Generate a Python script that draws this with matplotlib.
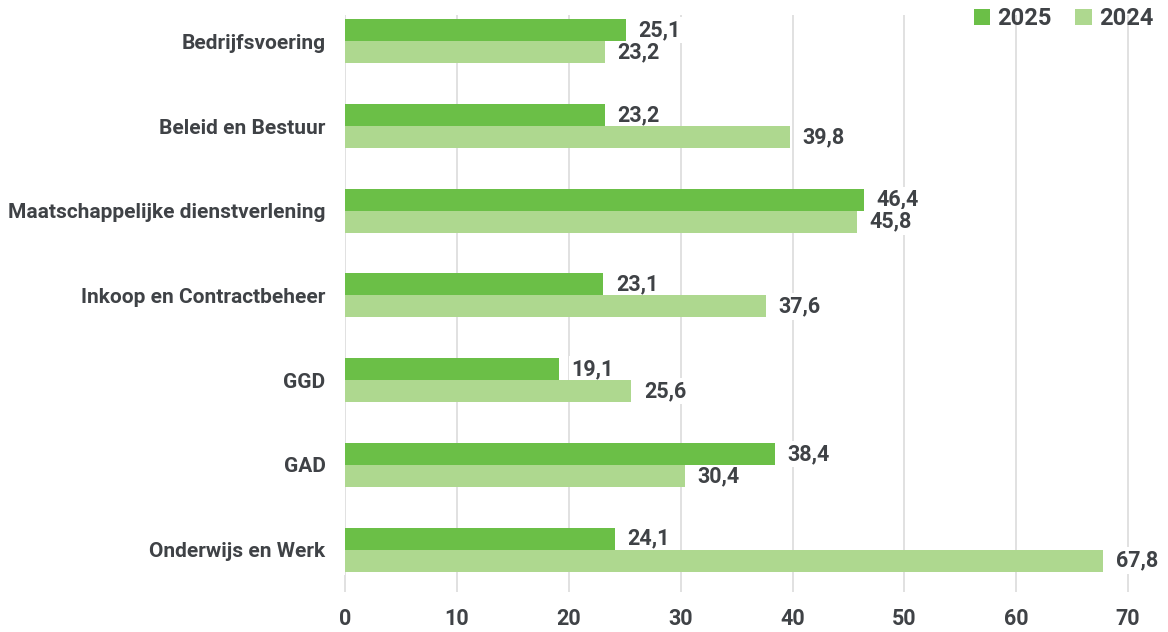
import numpy as np
import matplotlib.pyplot as plt

# data
categories = ["Bedrijfsvoering", "Beleid en Bestuur", "Maatschappelijke dienstverlening",
              "Inkoop en Contractbeheer", "GGD", "GAD", "Onderwijs en Werk"]
vals_2025 = [25.1, 23.2, 46.4, 23.1, 19.1, 38.4, 24.1]
vals_2024 = [23.2, 39.8, 45.8, 37.6, 25.6, 30.4, 67.8]
series_names = ["2025", "2024"]

c25 = "#6bbf47"
c24 = "#aed88f"
txt = "#3f4246"

plt.rcParams['font.family'] = ['Roboto', 'DejaVu Sans']

fig = plt.figure(figsize=(11.68, 6.32), dpi=100)
ax = fig.add_axes([0.2954, 0.0902, 0.6896, 0.886])
ax.set_axisbelow(True)

y = np.arange(len(categories))
h = 0.26
b1 = ax.barh(y - h / 2, vals_2025, height=h, color=c25, label=series_names[0], zorder=2)
b2 = ax.barh(y + h / 2, vals_2024, height=h, color=c24, label=series_names[1], zorder=2)

def fmt(v):
    return f"{v:.1f}".replace(".", ",")

# labels sit under the bars so their white box only hides the gridlines
for bars, vals in [(b1, vals_2025), (b2, vals_2024)]:
    for rect, v in zip(bars, vals):
        ax.annotate(fmt(v), (v, rect.get_y() + rect.get_height() / 2),
                    xytext=(9, 0), textcoords="offset points", va="center", ha="left",
                    fontsize=15.5, fontweight="bold", color=txt, zorder=1.5,
                    bbox=dict(boxstyle="square,pad=0.1", fc="white", ec="none"))

ax.set_xlim(0, 72)
ax.set_ylim(len(categories) - 1 + 0.30, -0.31)
ax.set_xticks(range(0, 71, 10))
ax.set_yticks(y)
ax.set_yticklabels(categories, fontsize=15, fontweight="bold", color=txt)
for lab in ax.get_xticklabels():
    lab.set_fontsize(15.5)
    lab.set_fontweight("bold")
    lab.set_color(txt)

ax.grid(axis="x", color="#dcdcdc", linewidth=1.2)
for s in ax.spines.values():
    s.set_visible(False)
ax.tick_params(axis="y", length=0, pad=14)
ax.tick_params(axis="x", length=12, width=1.2, color="#dcdcdc", pad=12)

leg = ax.legend(loc="upper right", bbox_to_anchor=(1.03, 1.052), ncol=2, frameon=False,
                handlelength=0.7, handleheight=0.7, handletextpad=0.3, columnspacing=1.0,
                prop={"size": 17, "weight": "bold"})
for t in leg.get_texts():
    t.set_color(txt)

fig.savefig("out.png", dpi=100)
